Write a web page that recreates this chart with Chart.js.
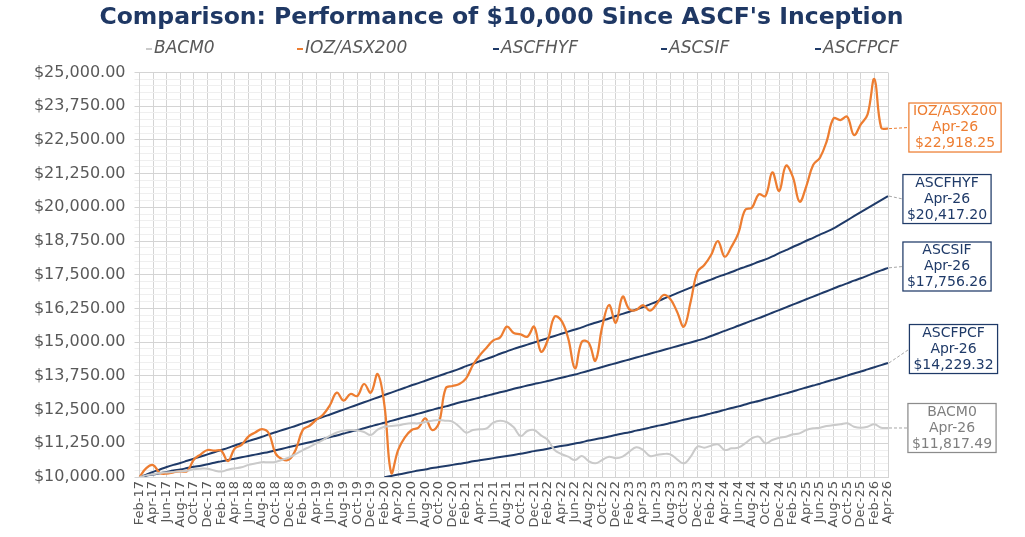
<!DOCTYPE html>
<html>
<head>
<meta charset="utf-8">
<script src="https://cdn.jsdelivr.net/npm/chart.js@4.4.1/dist/chart.umd.min.js"></script>
<style>
html,body{margin:0;padding:0;background:#ffffff;}
#wrap{width:1025px;height:537px;position:relative;}
</style>
</head>
<body>
<div id="wrap"><canvas id="c" width="1025" height="537"></canvas></div>
<script>
// ---------- DATA ----------
const months = [
 'Feb-17','Mar-17','Apr-17','May-17','Jun-17','Jul-17','Aug-17','Sep-17','Oct-17','Nov-17','Dec-17',
 'Jan-18','Feb-18','Mar-18','Apr-18','May-18','Jun-18','Jul-18','Aug-18','Sep-18','Oct-18','Nov-18','Dec-18',
 'Jan-19','Feb-19','Mar-19','Apr-19','May-19','Jun-19','Jul-19','Aug-19','Sep-19','Oct-19','Nov-19','Dec-19',
 'Jan-20','Feb-20','Mar-20','Apr-20','May-20','Jun-20','Jul-20','Aug-20','Sep-20','Oct-20','Nov-20','Dec-20',
 'Jan-21','Feb-21','Mar-21','Apr-21','May-21','Jun-21','Jul-21','Aug-21','Sep-21','Oct-21','Nov-21','Dec-21',
 'Jan-22','Feb-22','Mar-22','Apr-22','May-22','Jun-22','Jul-22','Aug-22','Sep-22','Oct-22','Nov-22','Dec-22',
 'Jan-23','Feb-23','Mar-23','Apr-23','May-23','Jun-23','Jul-23','Aug-23','Sep-23','Oct-23','Nov-23','Dec-23',
 'Jan-24','Feb-24','Mar-24','Apr-24','May-24','Jun-24','Jul-24','Aug-24','Sep-24','Oct-24','Nov-24','Dec-24',
 'Jan-25','Feb-25','Mar-25','Apr-25','May-25','Jun-25','Jul-25','Aug-25','Sep-25','Oct-25','Nov-25','Dec-25',
 'Jan-26','Feb-26','Mar-26','Apr-26'
];

const seriesNames = ['BACM0','IOZ/ASX200','ASCFHYF','ASCSIF','ASCFPCF'];

const bacm0 = [
 10000,10060,10100,10150,10170,10190,10210,10230,10290,10310,
 10310,10240,10200,10270,10320,10360,10450,10500,10550,10545,
 10560,10640,10730,10860,11000,11120,11250,11380,11530,11650,
 11720,11743,11730,11670,11560,11760,11866,11891,11916,11965,
 11990,11990,12040,12089,12114,12089,12052,11866,11644,11743,
 11768,11805,12015,12089,12030,11842,11520,11706,11743,11545,
 11372,11001,10853,10754,10630,10779,10593,10507,10630,10754,
 10692,10754,10939,11100,11001,10779,10816,10853,10840,10655,
 10507,10754,11125,11088,11162,11211,11001,11063,11088,11248,
 11434,11496,11248,11372,11458,11496,11582,11619,11743,11805,
 11829,11891,11928,11953,11990,11866,11829,11866,11953,11829,
 11817.49
];

const ioz = [
 10000,10330,10440,10150,10125,10175,10210,10220,10650,10840,
 11000,10975,10975,10590,11060,11190,11500,11650,11775,11625,
 10875,10660,10650,11040,11750,11900,12125,12320,12670,13127,
 12830,13078,13003,13448,13127,13819,12650,10150,11000,11471,
 11743,11830,12175,11743,12000,13288,13374,13448,13659,14153,
 14511,14796,15068,15179,15574,15340,15290,15200,15574,14647,
 15080,15945,15797,15142,14029,15018,14981,14314,15574,16378,
 15722,16687,16217,16192,16378,16168,16415,16749,16600,16130,
 15574,16500,17614,17861,18232,18751,18170,18541,19035,19900,
 19987,20481,20420,21297,20605,21544,21136,20210,20790,21569,
 21841,22459,23300,23238,23361,22681,23077,23448,24758,22953,
 22918.25
];

const ascfhyf = [
 10000,10090,10190,10280,10370,10450,10520,10600,10680,10760,
 10840,10920,11000,11080,11170,11250,11330,11410,11490,11580,
 11660,11740,11820,11900,11990,12070,12150,12230,12320,12410,
 12500,12590,12680,12770,12860,12950,13040,13130,13220,13310,
 13400,13480,13570,13660,13750,13840,13920,14010,14110,14200,
 14290,14380,14470,14570,14660,14750,14830,14910,14990,15070,
 15150,15230,15310,15390,15470,15550,15640,15720,15800,15880,
 15970,16050,16130,16210,16300,16400,16500,16610,16710,16820,
 16920,17020,17130,17230,17320,17420,17510,17600,17700,17790,
 17880,17980,18070,18180,18300,18410,18530,18640,18760,18870,
 18990,19100,19220,19370,19520,19670,19820,19970,20120,20270,
 20417.20
];

const ascsif = [
 10000,10050,10090,10140,10190,10240,10280,10330,10380,10420,
 10470,10530,10580,10630,10680,10730,10780,10830,10880,10930,
 10990,11050,11110,11170,11230,11290,11350,11410,11480,11540,
 11610,11680,11740,11810,11880,11950,12010,12080,12150,12220,
 12280,12350,12420,12490,12560,12620,12690,12760,12820,12880,
 12950,13010,13080,13140,13200,13270,13330,13390,13450,13500,
 13560,13620,13680,13740,13800,13870,13940,14010,14080,14150,
 14220,14290,14360,14430,14500,14570,14640,14710,14780,14850,
 14920,14990,15060,15130,15230,15320,15420,15510,15610,15700,
 15800,15890,15990,16090,16190,16290,16390,16490,16590,16690,
 16790,16890,16990,17090,17180,17280,17370,17470,17570,17660,
 17756.26
];

// ASCFPCF starts at Feb-20
const ascfpcfStart = 'Feb-20';
const ascfpcf = [
 10000,10040,10090,10140,10190,10240,10280,10330,10370,10410,
 10450,10490,10530,10580,10620,10660,10700,10740,10780,10820,
 10860,10910,10960,11000,11050,11100,11150,11190,11240,11290,
 11350,11400,11450,11500,11560,11610,11660,11720,11770,11830,
 11890,11940,12000,12060,12120,12180,12230,12290,12360,12420,
 12490,12560,12620,12690,12760,12820,12890,12960,13030,13100,
 13170,13250,13320,13390,13460,13540,13610,13680,13760,13840,
 13910,13990,14070,14150,14229.32
];

const yMin = 10000, yMax = 25000, yStep = 250, yMajor = 1250;

// ---------- STYLE / LAYOUT ----------
const COLORS = ['#CACACA','#ED7D31','#1F3A68','#1F3A68','#1F3A68'];
const WIDTHS = [2, 2.25, 2, 2, 2];
const BOX_TEXT = ['#7F7F7F','#ED7D31','#1F3A68','#1F3A68','#1F3A68'];
const BOX_BORDER = ['#8C8C8C','#ED7D31','#1F3A68','#1F3A68','#1F3A68'];
const LEADER = ['#A6A6A6','#ED7D31','#A6A6A6','#A6A6A6','#A6A6A6'];
const boxCenterX = [952, 955, 947, 947, 953.5];
const boxAtValue = [11817, 22960, 20308, 17806, 14746];
const legendLeft = [146, 297, 493, 661, 815];
const legendY = 49;
const MAJOR = '#D4D4D4', MINOR = '#EFEFEF';
const TITLE = "Comparison: Performance of $10,000 Since ASCF's Inception";

const fmt = v => '$' + v.toLocaleString('en-US', {minimumFractionDigits: 2, maximumFractionDigits: 2});

const pcfFull = months.map((m, i) => {
  const k = i - months.indexOf(ascfpcfStart);
  return k >= 0 && k < ascfpcf.length ? ascfpcf[k] : null;
});
const seriesData = [bacm0, ioz, ascfhyf, ascsif, pcfFull];

const legendPlugin = {
  id: 'customLegend',
  afterDraw(chart) {
    const c = chart.ctx;
    c.save();
    c.font = 'italic 17px "DejaVu Sans"';
    c.textBaseline = 'middle';
    c.textAlign = 'left';
    seriesNames.forEach((n, i) => {
      const x = legendLeft[i];
      c.fillStyle = COLORS[i];
      c.fillRect(x, legendY - 1, 6, 2);
      c.fillStyle = '#595959';
      c.fillText(n, x + 8, legendY);
    });
    c.restore();
  }
};

const endLabelPlugin = {
  id: 'endLabels',
  afterDatasetsDraw(chart) {
    const c = chart.ctx;
    const ys = chart.scales.y;
    c.save();
    c.font = '14px "DejaVu Sans"';
    c.textAlign = 'center';
    c.textBaseline = 'middle';
    chart.data.datasets.forEach((ds, i) => {
      const meta = chart.getDatasetMeta(i);
      const li = ds.data.length - 1;
      const pt = meta.data[li];
      const lines = [ds.label, chart.data.labels[li], fmt(ds.data[li])];
      const w = Math.max(...lines.map(t => c.measureText(t).width)) + 8;
      const h = 49;
      const cy = ys.getPixelForValue(boxAtValue[i]);
      const left = boxCenterX[i] - w / 2;
      const top = cy - h / 2;
      c.setLineDash([3, 2]);
      c.strokeStyle = LEADER[i];
      c.lineWidth = 1;
      c.beginPath();
      c.moveTo(pt.x + 1, pt.y);
      c.lineTo(left, cy);
      c.stroke();
      c.setLineDash([]);
      c.fillStyle = '#ffffff';
      c.fillRect(left, top, w, h);
      c.strokeStyle = BOX_BORDER[i];
      c.lineWidth = 1.25;
      c.strokeRect(left, top, w, h);
      c.fillStyle = BOX_TEXT[i];
      lines.forEach((t, k) => c.fillText(t, boxCenterX[i], top + 8.5 + k * 16));
    });
    c.restore();
  }
};

new Chart(document.getElementById('c'), {
  type: 'line',
  data: {
    labels: months,
    datasets: seriesNames.map((n, i) => ({
      label: n,
      data: seriesData[i],
      borderColor: COLORS[i],
      backgroundColor: COLORS[i],
      borderWidth: WIDTHS[i],
      pointRadius: 0,
      tension: 0.4,
      fill: false,
      spanGaps: false
    }))
  },
  options: {
    responsive: false,
    animation: false,
    devicePixelRatio: 1,
    layout: { padding: { left: 34, right: 56, top: 0, bottom: 0 } },
    plugins: {
      legend: { display: false },
      tooltip: { enabled: false },
      title: {
        display: true,
        text: TITLE,
        color: '#1F3864',
        font: { family: 'DejaVu Sans', size: 23.5, weight: 'bold' },
        padding: { top: 3.9, bottom: 40.4 }
      }
    },
    scales: {
      x: {
        type: 'category',
        grid: {
          color: ctx => (ctx.index % 2 === 0 ? MAJOR : 'rgba(0,0,0,0)'),
          drawTicks: false
        },
        border: { color: MAJOR },
        ticks: {
          autoSkip: false, maxRotation: 90, minRotation: 90, padding: 4,
          color: '#555555',
          font: { family: 'DejaVu Sans', size: 13 },
          callback: (v, i) => (i % 2 === 0 ? months[i] : '')
        },
        afterFit: s => { s.height = 60; }
      },
      y: {
        min: yMin, max: yMax,
        ticks: {
          stepSize: yStep, autoSkip: false, padding: 9,
          color: '#595959',
          font: { family: 'DejaVu Sans', size: 16 },
          callback: v => (v % yMajor === 0 ? fmt(v) : '')
        },
        grid: {
          color: ctx => (ctx.tick && ctx.tick.value % yMajor === 0 ? MAJOR : MINOR),
          tickLength: 5
        },
        border: { color: MAJOR },
        afterFit: s => { s.width = 105.5; }
      },
      yR: {
        position: 'right',
        display: true,
        grid: { display: false },
        ticks: { display: false },
        border: { display: false },
        afterFit: s => { s.width = 81; }
      }
    }
  },
  plugins: [legendPlugin, endLabelPlugin]
});
</script>
</body>
</html>
